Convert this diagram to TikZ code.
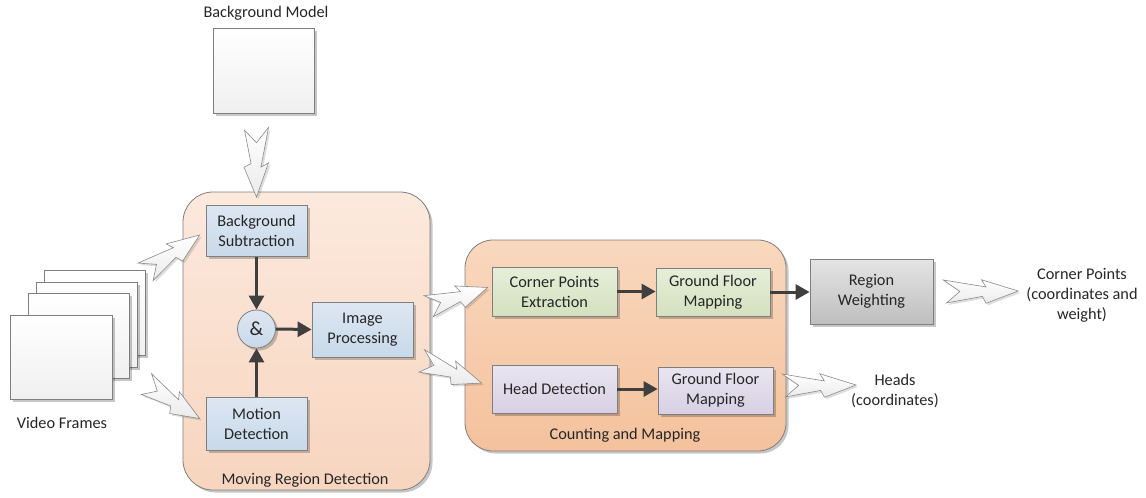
\documentclass[tikz,border=0pt]{standalone}
\usepackage{fontspec}
\setmainfont{Carlito}
\usetikzlibrary{arrows.meta,calc,shadows}
\definecolor{lineg}{HTML}{7F7F7F}
\definecolor{zigline}{HTML}{8A8A8A}
\definecolor{darkarr}{HTML}{3F3F3F}
\definecolor{mrdTop}{HTML}{FCE9DD}
\definecolor{mrdBot}{HTML}{F7D5BF}
\definecolor{cmTop}{HTML}{F9D8BE}
\definecolor{cmBot}{HTML}{F4C19C}
\definecolor{blueTop}{HTML}{DDE7F2}
\definecolor{blueBot}{HTML}{C8D9EA}
\definecolor{greenTop}{HTML}{E6EED9}
\definecolor{greenBot}{HTML}{D4E1BF}
\definecolor{purpTop}{HTML}{E9E5F0}
\definecolor{purpBot}{HTML}{D7D0E4}
\definecolor{grayTop}{HTML}{E4E4E4}
\definecolor{grayBot}{HTML}{BEBEBE}
\tikzset{
  txt/.style={font=\fontsize{16.3}{20}\selectfont, align=center, text=black!85, inner sep=0pt},
  shad/.style={drop shadow={shadow xshift=2.5pt, shadow yshift=-2.5pt, fill=black, opacity=0.22}},
  boxbase/.style={txt, draw=lineg, line width=0.8pt, shad, rectangle},
  bluebox/.style={boxbase, top color=blueTop, bottom color=blueBot},
  greenbox/.style={boxbase, top color=greenTop, bottom color=greenBot},
  purpbox/.style={boxbase, top color=purpTop, bottom color=purpBot},
  graybox/.style={boxbase, top color=grayTop, bottom color=grayBot},
  whitebox/.style={boxbase, top color=white, bottom color=black!6},
  group/.style={draw=lineg, line width=0.8pt, rectangle, rounded corners=30pt, shad},
  darrow/.style={draw=darkarr, line width=3pt, -{Triangle[length=14pt,width=15pt]}},
  zigsty/.style={draw=zigline, line width=0.6pt, top color=white, bottom color=black!8,
    drop shadow={shadow xshift=2pt, shadow yshift=-2pt, fill=black, opacity=0.13}},
}
\newcommand\zig[3][12]{%
  \path[zigsty]
   ($(#2)!{1.0*#1pt}!90:(#3)$) --
   ($(#2)!0.57!(#3)!{0.37*#1pt}!90:(#3)$) --
   ($(#2)!0.51!(#3)!{1.0*#1pt}!90:(#3)$) --
   (#3) --
   ($(#2)!0.57!(#3)!{1.05*#1pt}!-90:(#3)$) --
   ($(#2)!0.52!(#3)!{0.45*#1pt}!-90:(#3)$) --
   ($(#2)!0.04!(#3)!{1.0*#1pt}!-90:(#3)$) --
   ($(#2)!0.22!(#3)$) -- cycle;}
\begin{document}
\begin{tikzpicture}[x=1pt,y=-1pt]
\useasboundingbox (0,0) rectangle (1146,498);

% background model
\node[txt] (bgmlabel) at (266,13) {Background Model};
\node[whitebox, minimum width=101pt, minimum height=85pt] (bgm) at (263.5,70.5) {};

% video frames
\node[whitebox, minimum width=101pt, minimum height=85pt] (f4) at (94.5,312.5) {};
\node[whitebox, minimum width=101pt, minimum height=85pt] (f3) at (86.5,325) {};
\node[whitebox, minimum width=101pt, minimum height=85pt] (f2) at (78.5,335.5) {};
\node[whitebox, minimum width=102pt, minimum height=84pt] (f1) at (61,357) {};
\node[txt] (vflabel) at (62,423) {Video Frames};

% groups
\node[group, top color=mrdTop, bottom color=mrdBot, minimum width=247pt, minimum height=298pt] (mrd) at (306.5,341) {};
\node[txt] (mrdlabel) at (305,480) {Moving Region Detection};
\node[group, rounded corners=28pt, top color=cmTop, bottom color=cmBot, minimum width=321pt, minimum height=211pt] (cm) at (625.5,345.5) {};
\node[txt] (cmlabel) at (625,435) {Counting and Mapping};

% inner boxes
\node[bluebox, minimum width=101pt, minimum height=51pt] (bgsub) at (256.5,231) {Background\\Subtraction};
\node[bluebox, circle, minimum size=38pt, font=\fontsize{20}{24}\selectfont] (and) at (256.5,329) {\&};
\node[bluebox, minimum width=101pt, minimum height=55pt] (imgp) at (362.5,329.5) {Image\\Processing};
\node[bluebox, minimum width=101pt, minimum height=53pt] (motion) at (256.5,423.5) {Motion\\Detection};

\node[greenbox, minimum width=125pt, minimum height=49pt] (cpe) at (554.5,291.5) {Corner Points\\Extraction};
\node[greenbox, minimum width=114pt, minimum height=48pt] (gfm1) at (713,292) {Ground Floor\\Mapping};
\node[purpbox, minimum width=125pt, minimum height=48pt] (hd) at (554.5,389) {Head Detection};
\node[purpbox, minimum width=115pt, minimum height=47pt] (gfm2) at (715.5,390.5) {Ground Floor\\Mapping};
\node[graybox, minimum width=123pt, minimum height=65pt] (rw) at (871.5,291.5) {Region\\Weighting};

\node[txt] (cptext) at (1082,295) {Corner Points\\(coordinates and\\weight)};
\node[txt] (heads) at (895,391) {Heads\\(coordinates)};

% dark arrows
\draw[darrow] (bgsub.south) -- (and.north);
\draw[darrow] (motion.north) -- (and.south);
\draw[darrow] (and.east) -- (imgp.west);
\draw[darrow] (cpe.east) -- (gfm1.west |- cpe.east);
\draw[darrow] (hd.east) -- (gfm2.west |- hd.east);
\draw[darrow] (gfm1.east) -- (rw.west |- gfm1.east);

% lightning arrows
\coordinate (z1s) at ($(bgm.south)+(-7,14)$);
\coordinate (z1e) at ($(bgsub.north)+(0,-8)$);
\coordinate (z2s) at ($(f4.north east)+(-1,3)$);
\coordinate (z2e) at ($(bgsub.west)+(-6,4)$);
\coordinate (z3s) at ($(f4.south east)+(0,28)$);
\coordinate (z3e) at ($(motion.west)+(-6,-5)$);
\coordinate (z4s) at ($(imgp.north east)+(14,5)$);
\coordinate (z4e) at ($(cpe.west)+(-4,-4)$);
\coordinate (z5s) at ($(imgp.south east)+(7,3)$);
\coordinate (z5e) at ($(hd.west)+(-10,-6)$);
\coordinate (z6s) at ($(rw.east)+(10,0)$);
\coordinate (z6e) at ($(cptext.west)+(-8,-4)$);
\coordinate (z7s) at ($(gfm2.east)+(9,-5)$);
\coordinate (z7e) at ($(heads.west)+(5,-6)$);
\zig[12]{z1s}{z1e}
\zig[11.5]{z2s}{z2e}
\zig[11.5]{z3s}{z3e}
\zig[11.5]{z4s}{z4e}
\zig[11.5]{z5s}{z5e}
\zig[11.5]{z6s}{z6e}
\zig[11.5]{z7s}{z7e}
\end{tikzpicture}
\end{document}
